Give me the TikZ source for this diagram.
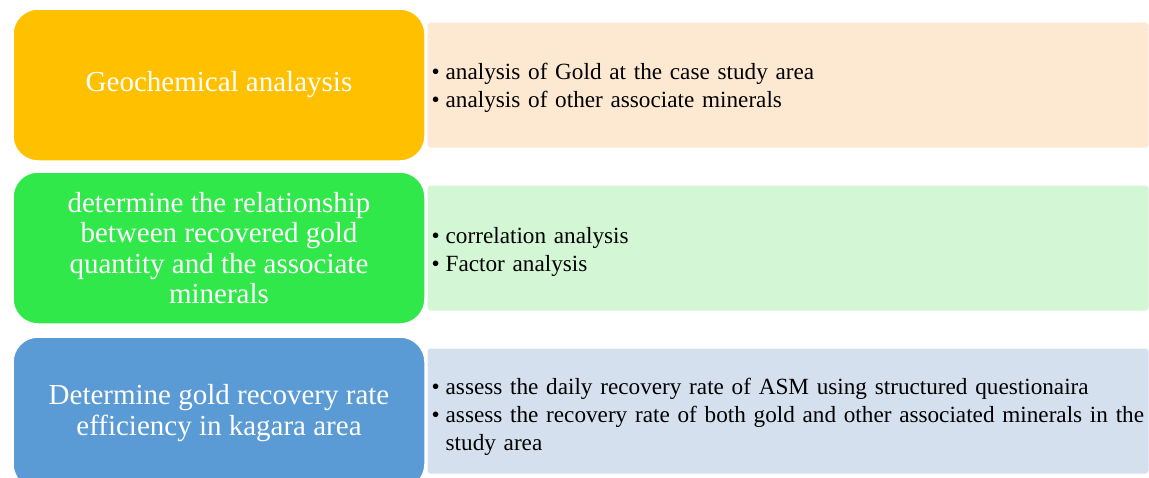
\documentclass[tikz,border=0pt]{standalone}
\usepackage{fontspec}
\setmainfont{Liberation Serif}
\definecolor{stageyellow}{HTML}{FFC000}
\definecolor{stagegreen}{HTML}{31E84B}
\definecolor{stageblue}{HTML}{5B9BD5}
\definecolor{panelpeach}{HTML}{FDE8D1}
\definecolor{panelmint}{HTML}{D3F6D5}
\definecolor{panelsteel}{HTML}{D4E0EE}
% one bullet line with a hanging indent
\newcommand{\bitem}[1]{\par\hangindent=14pt\hangafter=1\noindent\makebox[14pt][l]{\textbullet}#1}
\tikzset{
  stagebox/.style={rounded corners=25pt, fill=#1, draw=white, line width=1.5pt,
    minimum width=412pt, minimum height=152pt, inner sep=0pt, text=white,
    align=center, font=\fontsize{29}{30.5}\selectfont},
  panelbox/.style={fill=#1, draw=white, line width=1pt, rounded corners=3pt,
    minimum width=722pt, minimum height=126pt, inner sep=0pt},
  bullettext/.style={anchor=west, text width=718pt, align=left, inner sep=0pt,
    font=\fontsize{23.2}{28}\selectfont}
}
\begin{document}
\begin{tikzpicture}[x=1pt,y=-1pt]
\useasboundingbox (0,0) rectangle (1149,477);
\clip (0,0) rectangle (1149,477);

% detail panels on the right
\node[panelbox=panelpeach] (p1) at (788,85) {};
\node[panelbox=panelmint]  (p2) at (788,248) {};
\node[panelbox=panelsteel] (p3) at (788,411) {};

% stage boxes on the left
\node[stagebox=stageyellow] (s1) at (219,85) {Geochemical analaysis};
\node[stagebox=stagegreen]  (s2) at (219,248) {determine the relationship\\between recovered gold\\quantity and the associate\\minerals};
\node[stagebox=stageblue]   (s3) at (219,413) {Determine gold recovery rate\\efficiency in kagara area};

% bullet lists
\node[bullettext] (t1) at ([xshift=5pt,yshift=3pt]p1.west) {%
  \bitem{analysis of Gold at the case study area}
  \bitem{analysis of other associate minerals}\par};
\node[bullettext] (t2) at ([xshift=5pt,yshift=2pt]p2.west) {%
  \bitem{correlation analysis}
  \bitem{Factor analysis}\par};
\node[bullettext] (t3) at ([xshift=5pt]p3.west) {%
  \bitem{assess the daily recovery rate of ASM using structured questionaira}
  \bitem{assess the recovery rate of both gold and other associated minerals in the study area}\par};
\end{tikzpicture}
\end{document}
